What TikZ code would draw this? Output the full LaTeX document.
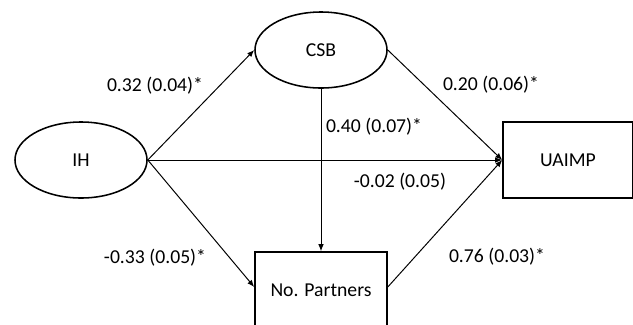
\documentclass[tikz,border=0pt]{standalone}
\usepackage{fontspec}
\setmainfont{Carlito}
\usetikzlibrary{arrows.meta, shapes.geometric, positioning}

\begin{document}
\begin{tikzpicture}[
    x=0.025cm, y=-0.025cm,
    font=\fontsize{14}{16}\selectfont,
    latent/.style={ellipse, draw=black, line width=1.1pt, minimum width=3.3cm, minimum height=1.9cm, inner sep=0pt},
    observed/.style={rectangle, draw=black, line width=1.1pt, minimum width=3.3cm, minimum height=1.9cm, inner sep=0pt},
    path/.style={-{Latex[length=5pt, width=4pt]}, line width=0.7pt},
    coef/.style={inner sep=0pt}
]
\clip (0,0) rectangle (633,324);
\fill[white] (0,0) rectangle (633,324);

% variables
\node[latent] (ih) at (81,160) {IH};
\node[latent] (csb) at (321,50) {CSB};
\node[observed, minimum width=3.25cm] (uaimp) at (568,160) {UAIMP};
\node[observed] (partners) at (321,290) {No. Partners};

% paths
\draw[path] (ih.east) -- (csb.west);
\draw[path] (ih.east) -- (partners.west |- 0,287);
\draw[path] (ih.east) -- (uaimp.west);
\draw[path] (csb.east) -- (uaimp.west);
\draw[path] (csb.south) -- (partners.north);
\draw[path] (partners.east |- 0,287) -- (uaimp.west);

% coefficients
\node[coef] (c1) at (155,86) {0.32 (0.04)*};
\node[coef] (c2) at (155,258) {-0.33 (0.05)*};
\node[coef] (c3) at (491,85) {0.20 (0.06)*};
\node[coef] (c4) at (374,127) {0.40 (0.07)*};
\node[coef] (c5) at (400,182) {-0.02 (0.05)};
\node[coef] (c6) at (497,257) {0.76 (0.03)*};
\end{tikzpicture}
\end{document}
